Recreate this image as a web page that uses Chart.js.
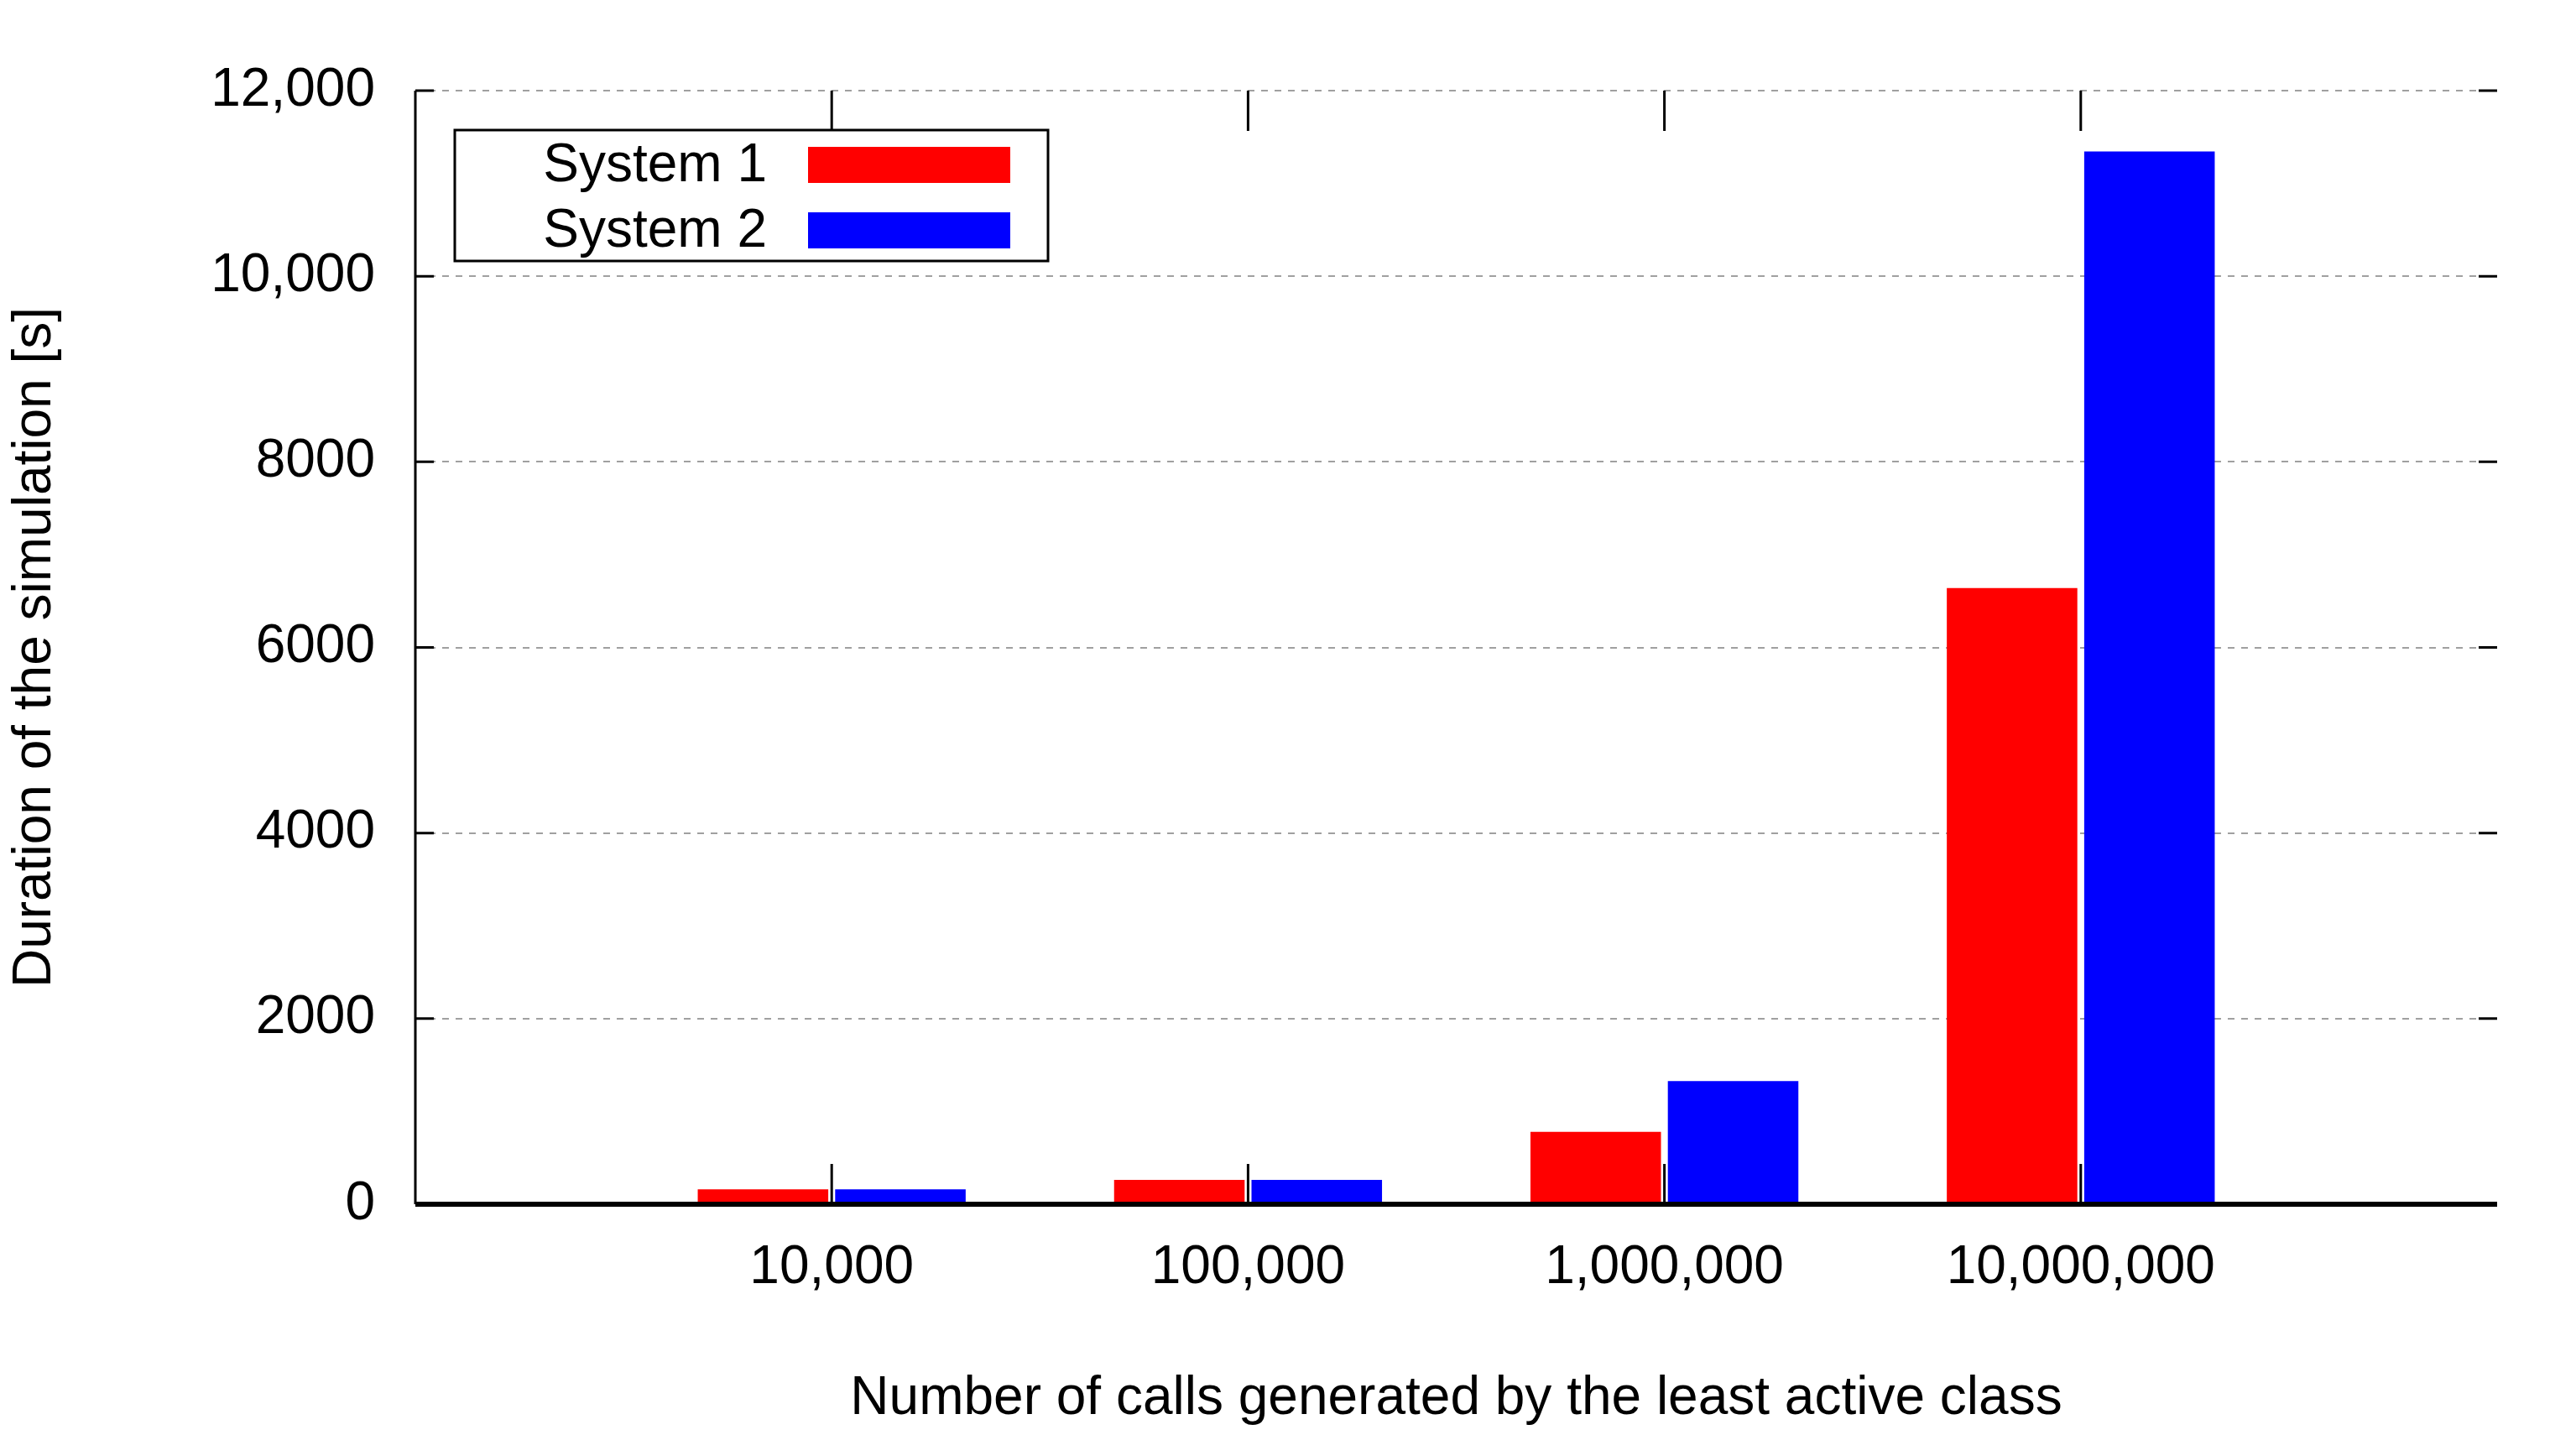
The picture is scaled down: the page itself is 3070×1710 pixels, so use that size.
<!DOCTYPE html>
<html>
<head>
<meta charset="utf-8">
<script src="https://cdn.jsdelivr.net/npm/chart.js@4/dist/chart.umd.min.js"></script>
<style>
  html, body { margin: 0; padding: 0; background: #fff; }
  #wrap { width: 3070px; height: 1710px; }
</style>
</head>
<body>
<div id="wrap"><canvas id="chart" width="3070" height="1710"></canvas></div>
<script>
const categories = ['', '10,000', '100,000', '1,000,000', '10,000,000', ''];
const system1 = [null, 160, 262, 780, 6640, null];
const system2 = [null, 160, 262, 1327, 11345, null];
const yTicks = [0, 2000, 4000, 6000, 8000, 10000, 12000];
const yTickLabels = ['0', '2000', '4000', '6000', '8000', '10,000', '12,000'];

const FONT = '"Liberation Sans", Arial, sans-serif';

// gnuplot-style inward tick marks, frame and legend box
const frame = {
    id: 'frame',
    afterDraw(chart) {
        const { ctx, chartArea: a, scales: { x, y } } = chart;
        ctx.save();
        ctx.strokeStyle = '#000';
        ctx.lineWidth = 3;
        const t = 22;
        yTicks.forEach(v => {
            const py = y.getPixelForValue(v);
            ctx.beginPath();
            ctx.moveTo(a.left, py); ctx.lineTo(a.left + t, py);
            ctx.moveTo(a.right, py); ctx.lineTo(a.right - t, py);
            ctx.stroke();
        });
        for (let i = 1; i <= 4; i++) {
            const px = x.getPixelForValue(i);
            ctx.beginPath();
            ctx.moveTo(px, a.bottom); ctx.lineTo(px, a.bottom - 48);
            ctx.moveTo(px, a.top); ctx.lineTo(px, a.top + 48);
            ctx.stroke();
        }
        ctx.beginPath();
        ctx.moveTo(a.left, a.top); ctx.lineTo(a.left, a.bottom);
        ctx.stroke();
        ctx.lineWidth = 6;
        ctx.beginPath();
        ctx.moveTo(a.left, a.bottom); ctx.lineTo(a.right, a.bottom);
        ctx.stroke();

        // legend
        ctx.lineWidth = 3;
        ctx.strokeRect(542, 155, 707, 156);
        ctx.font = '64px ' + FONT;
        ctx.fillStyle = '#000';
        ctx.textAlign = 'right';
        ctx.textBaseline = 'middle';
        const rows = [['System 1', '#ff0000', 196], ['System 2', '#0000ff', 274]];
        rows.forEach(([label, col, cy]) => {
            ctx.fillStyle = '#000';
            ctx.fillText(label, 914, cy + 2);
            ctx.fillStyle = col;
            ctx.fillRect(963, cy - 21, 241, 43);
        });
        ctx.restore();
    }
};

new Chart(document.getElementById('chart'), {
    type: 'bar',
    data: {
        labels: categories,
        datasets: [
            { label: 'System 1', data: system1, backgroundColor: '#ff0000', categoryPercentage: 0.66, barPercentage: 0.95 },
            { label: 'System 2', data: system2, backgroundColor: '#0000ff', categoryPercentage: 0.66, barPercentage: 0.95 }
        ]
    },
    options: {
        responsive: false,
        animation: false,
        layout: { padding: { top: 108, right: 94, left: 0, bottom: 0 } },
        plugins: { legend: { display: false }, tooltip: { enabled: false } },
        scales: {
            x: {
                offset: false,
                grid: { display: false, drawTicks: false },
                border: { display: false },
                ticks: { color: '#000', font: { size: 64, family: FONT }, padding: 38, maxRotation: 0, autoSkip: false },
                title: { display: true, text: 'Number of calls generated by the least active class', color: '#000', font: { size: 64, family: FONT }, padding: { top: 20 } },
                afterFit(s) { s.height = 275; }
            },
            y: {
                min: 0, max: 12000,
                afterBuildTicks(s) { s.ticks = yTicks.map(v => ({ value: v })); },
                grid: { color: '#a0a0a0', lineWidth: 2, drawTicks: false, tickBorderDash: [0, 0] },
                border: { display: false, dash: [8, 8] },
                ticks: {
                    color: '#000', font: { size: 64, family: FONT }, padding: 48,
                    callback: (v) => yTickLabels[yTicks.indexOf(v)] ?? ''
                },
                title: { display: true, text: 'Duration of the simulation [s]', color: '#000', font: { size: 64, family: FONT }, padding: { bottom: 30 } },
                afterFit(s) { s.width = 495; }
            }
        }
    },
    plugins: [frame]
});
</script>
</body>
</html>
